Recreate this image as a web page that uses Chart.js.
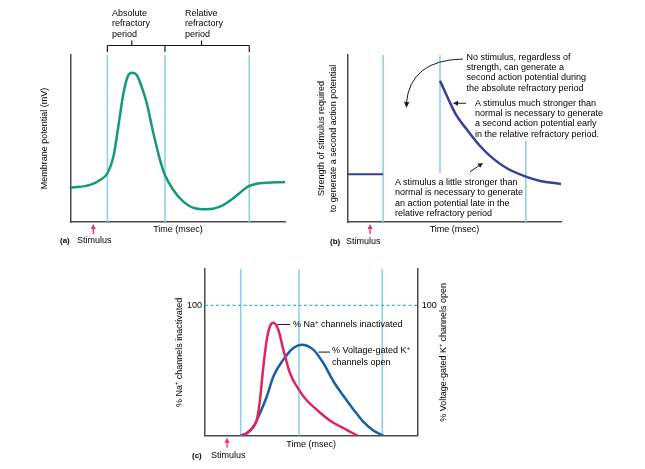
<!DOCTYPE html>
<html><head><meta charset="utf-8">
<script src="https://cdn.jsdelivr.net/npm/chart.js@4.4.1/dist/chart.umd.min.js"></script>
<style>
html,body{margin:0;padding:0;background:#fff;}
#wrap{position:relative;width:645px;height:469px;overflow:hidden;font-family:'Liberation Sans',Arial,sans-serif;color:#000;}
canvas{position:absolute;left:0;top:0;}
.t{position:absolute;font-size:9px;line-height:10.4px;white-space:nowrap;}
.lbl{font-weight:bold;font-size:8px;}
sup{font-size:6px;line-height:0;vertical-align:3px;}
</style></head><body>
<div id="wrap">
<canvas id="ca" width="645" height="469" style="width:645px;height:469px"></canvas>
<canvas id="cb" width="645" height="469" style="width:645px;height:469px"></canvas>
<canvas id="cc" width="645" height="469" style="width:645px;height:469px"></canvas>

<div class="t" style="left:112px;top:8px;">Absolute<br>refractory<br>period</div>
<div class="t" style="left:185px;top:8px;">Relative<br>refractory<br>period</div>
<div class="t lbl" style="left:60px;top:236px;">(a)</div>
<div class="t" style="left:77px;top:235px;">Stimulus</div>

<div class="t" style="left:466.5px;top:51.5px;">No stimulus, regardless of<br>strength, can generate a<br>second action potential during<br>the absolute refractory period</div>
<div class="t" style="left:475px;top:97.5px;">A stimulus much stronger than<br>normal is necessary to generate<br>a second action potential early<br>in the relative refractory period.</div>
<div class="t" style="left:395px;top:176.5px;line-height:10.5px;">A stimulus a little stronger than<br>normal is necessary to generate<br>an action potential late in the<br>relative refractory period</div>
<div class="t lbl" style="left:330px;top:237px;">(b)</div>
<div class="t" style="left:346px;top:236px;">Stimulus</div>

<div class="t" style="left:293px;top:319px;">% Na<sup>+</sup> channels inactivated</div>
<div class="t" style="left:332px;top:345px;line-height:11.5px;">% Voltage-gated K<sup>+</sup><br>channels open</div>
<div class="t lbl" style="left:192px;top:451px;">(c)</div>
<div class="t" style="left:211px;top:450px;">Stimulus</div>
</div>
<script>
// ---------- data ----------
// shared time events (arbitrary time units, 0..100 across each axis)
const stimulusTime = 10.4;

// (a) action potential
const aTime      = [0, 8.9, 13.6, 17, 19.8, 22.1, 24.5, 26.8, 28.6, 30.7, 33, 35.4, 38.5, 41.6, 43.9, 47.8, 52.5, 57.9, 63.4, 69.6, 75.8, 80.5, 83.3, 88.3, 100];
const aPotential = [20.5, 22.2, 25.1, 29.2, 39.1, 57.1, 77.1, 88.0, 89.4, 88.0, 81, 71.1, 53.1, 37.1, 28.1, 19.2, 12.2, 8.2, 7.6, 9.2, 14.2, 19.2, 21.6, 23.2, 24];
const aRefractoryTimes = [17, 43.9, 83.3];
const aBracketLabelTimes = [28.4, 61];

// (b) threshold strength
const bBaseTime     = [0, 16.5];
const bBaseStrength = [28.6, 28.6];
const bTime     = [43.2, 45.4, 47.6, 50.5, 55.7, 62, 68.3, 74.6, 83.5, 90.3, 100];
const bStrength = [84.6, 78.5, 72.3, 64.8, 55.5, 45.5, 37.8, 32.2, 27.2, 24.6, 22.8];
const bLineTimes = [16.5, 43.2, 83.5];
const bLineLow   = [0, 29.3, 0];
const bLineHigh  = [100, 100, 48.7];

// (c) channel states
const cNaTime = [16.8, 19.6, 22.8, 24.4, 25.9, 27.5, 29.1, 30.6, 32.2, 34.5, 36.9, 40, 44.7, 48, 52.6, 59, 66.7, 72];
const cNaPct  = [0, 1.8, 6.9, 12.1, 27.5, 53.2, 73.8, 84, 86.7, 81.5, 66.1, 48.1, 34, 27, 20, 11.5, 4.5, 0];
const cKTime  = [16.8, 19.6, 22.8, 25.9, 29.1, 32.2, 36.9, 41.6, 45.5, 51, 55.7, 60.4, 65, 70, 75, 79.3, 84];
const cKPct   = [0, 1.8, 6.9, 17.3, 30.1, 45.5, 58.4, 67.4, 69.9, 66.1, 55.8, 42, 31, 20, 10, 4, 0];
const cLineTimes = [16.8, 44.3, 83.5];
const cMaxPct = 128;
const cRefPct = 100;
const cTicks = [100];

// ---------- styling ----------
Chart.defaults.font.family = "'Liberation Sans', Arial, sans-serif";
Chart.defaults.font.size = 9;
Chart.defaults.color = '#000';
const AXIS = '#4a4a4a', CYAN = '#86d0e8', PINK = '#e8307c';

const pts = (xs, ys) => xs.map((x, i) => ({x, y: ys[i]}));
const vline = (t, lo, hi, col) => ({data: [{x: t, y: lo}, {x: t, y: hi}], borderColor: col || CYAN, borderWidth: 1.5, pointRadius: 0, tension: 0});
const curve = (data, col, extra) => Object.assign({data, borderColor: col, borderWidth: 2.5, pointRadius: 0, cubicInterpolationMode: 'monotone', fill: false}, extra || {});

function xScale(title, pad) {
  return {type: 'linear', min: 0, max: 100,
    grid: {display: false, drawTicks: false, tickLength: 0},
    border: {display: true, color: AXIS, width: 1.5},
    ticks: {display: false},
    title: {display: true, text: title, font: {size: 9}, padding: pad}};
}
function yScale(min, max, title, pad) {
  return {type: 'linear', min, max, position: 'left',
    grid: {display: false, drawTicks: false, tickLength: 0},
    border: {display: true, color: AXIS, width: 1.5},
    ticks: {display: false},
    title: {display: true, text: title, font: {size: 9, lineHeight: 1.28}, padding: pad}};
}
function arrowHead(ctx, x, y, ang, len, w) {
  ctx.beginPath();
  ctx.moveTo(x, y);
  ctx.lineTo(x - len * Math.cos(ang) + w * Math.sin(ang), y - len * Math.sin(ang) - w * Math.cos(ang));
  ctx.lineTo(x - len * Math.cos(ang) - w * Math.sin(ang), y - len * Math.sin(ang) + w * Math.cos(ang));
  ctx.closePath();
  ctx.fill();
}
function stimulusArrow(chart) {
  const ctx = chart.ctx, x = chart.scales.x.getPixelForValue(stimulusTime), b = chart.chartArea.bottom;
  ctx.save();
  ctx.strokeStyle = PINK; ctx.fillStyle = PINK; ctx.lineWidth = 1.3;
  ctx.beginPath(); ctx.moveTo(x, b + 12); ctx.lineTo(x, b + 5); ctx.stroke();
  arrowHead(ctx, x, b + 2, -Math.PI / 2, 5, 2.6);
  ctx.restore();
}
const common = {responsive: false, animation: false, events: [],
  plugins: {legend: {display: false}, tooltip: {enabled: false}}};

// ---------- (a) ----------
new Chart(document.getElementById('ca'), {
  type: 'line',
  data: {datasets: [
    curve(pts(aTime, aPotential), '#16997a'),
    ...aRefractoryTimes.map(t => vline(t, 0, 100))
  ]},
  options: Object.assign({}, common, {
    layout: {padding: {left: 30, top: 55, right: 360, bottom: 219}},
    scales: {
      x: xScale('Time (msec)', {top: 2.6, bottom: 14.6}),
      y: yScale(0, 100, 'Membrane potential (mV)', {top: 9.1, bottom: 20.4})
    }
  }),
  plugins: [{id: 'annA', afterDatasetsDraw(chart) {
    const ctx = chart.ctx, xs = chart.scales.x, top = chart.chartArea.top;
    const xb = aRefractoryTimes.map(t => xs.getPixelForValue(t));
    const yb = top - 9.5;
    ctx.save();
    ctx.strokeStyle = '#1a1a1a'; ctx.lineWidth = 1.2;
    ctx.beginPath();
    ctx.moveTo(xb[0], yb); ctx.lineTo(xb[xb.length - 1], yb);
    xb.forEach(x => { ctx.moveTo(x, yb); ctx.lineTo(x, top - 3); });
    aBracketLabelTimes.forEach(t => { const x = xs.getPixelForValue(t); ctx.moveTo(x, yb); ctx.lineTo(x, yb - 5); });
    ctx.stroke();
    ctx.restore();
    stimulusArrow(chart);
  }}]
});

// ---------- (b) ----------
new Chart(document.getElementById('cb'), {
  type: 'line',
  data: {datasets: [
    curve(pts(bTime, bStrength), '#3a3d9a'),
    curve(pts(bBaseTime, bBaseStrength), '#3a3d9a', {cubicInterpolationMode: 'default', tension: 0, borderWidth: 2}),
    ...bLineTimes.map((t, i) => vline(t, bLineLow[i], bLineHigh[i]))
  ]},
  options: Object.assign({}, common, {
    layout: {padding: {left: 300, top: 55, right: 84, bottom: 219}},
    scales: {
      x: xScale('Time (msec)', {top: 2.6, bottom: 14.6}),
      y: yScale(0, 100, ['Strength of stimulus required', 'to generate a second action potential'], {top: 15.9, bottom: 9.0})
    }
  }),
  plugins: [{id: 'annB', afterDatasetsDraw(chart) {
    const ctx = chart.ctx, X = v => chart.scales.x.getPixelForValue(v), Y = v => chart.scales.y.getPixelForValue(v);
    ctx.save();
    ctx.strokeStyle = '#1a1a1a'; ctx.fillStyle = '#1a1a1a'; ctx.lineWidth = 1;
    // curved arrow into absolute refractory period
    const sx = X(54), sy = Y(97.6), cx = X(29), cy = Y(97), ex = X(27.4), ey = Y(68.3);
    ctx.beginPath(); ctx.moveTo(sx, sy); ctx.quadraticCurveTo(cx, cy, ex, ey - 4); ctx.stroke();
    arrowHead(ctx, ex, ey, Math.atan2(ey - cy, ex - cx), 6, 2.6);
    // arrow to early relative refractory
    ctx.beginPath(); ctx.moveTo(X(55.4), Y(71.1)); ctx.lineTo(X(50.5), Y(71.1)); ctx.stroke();
    arrowHead(ctx, X(49.3), Y(71.1), Math.PI, 5, 2.4);
    // arrow to late relative refractory
    const a1x = X(57.3), a1y = Y(30.1), a2x = X(63.4), a2y = Y(35.3);
    const ang = Math.atan2(a2y - a1y, a2x - a1x);
    ctx.beginPath(); ctx.moveTo(a1x, a1y); ctx.lineTo(a2x - 4 * Math.cos(ang), a2y - 4 * Math.sin(ang)); ctx.stroke();
    arrowHead(ctx, a2x, a2y, ang, 5, 2.4);
    ctx.restore();
    stimulusArrow(chart);
  }}]
});

// ---------- (c) ----------
const yC = (pos, width, title, pad) => ({type: 'linear', min: 0, max: cMaxPct, position: pos,
  grid: {display: false, drawTicks: false, tickLength: 0},
  border: {display: true, color: AXIS, width: 1.5},
  afterBuildTicks: s => { s.ticks = cTicks.map(v => ({value: v})); },
  afterFit: s => { s.width = width; },
  ticks: {display: true, font: {size: 9}, padding: pos === 'left' ? 3 : 4.4, color: '#000'},
  title: {display: !!title, text: title || '', font: {size: 9}, padding: pad || 0}});

const rightTitle = '% Voltage-gated K⁺ channels open';

new Chart(document.getElementById('cc'), {
  type: 'line',
  data: {datasets: [
    curve(pts(cNaTime, cNaPct), '#e1245e'),
    curve(pts(cKTime, cKPct), '#175fa6', {yAxisID: 'y2'}),
    {data: [{x: 0, y: cRefPct}, {x: 100, y: cRefPct}], borderColor: '#3cb8dc', borderWidth: 1.2, borderDash: [3, 2.5], pointRadius: 0},
    ...cLineTimes.map(t => vline(t, 0, cMaxPct))
  ]},
  options: Object.assign({}, common, {
    layout: {padding: {left: 150, top: 269, right: 197.7, bottom: 9}},
    scales: {
      x: xScale('Time (msec)', {top: 3.9, bottom: 9.6}),
      y: yC('left', 55, '% Na⁺ channels inactivated', {top: 24.6, bottom: 0}),
      y2: yC('right', 30)
    }
  }),
  plugins: [{id: 'annC', afterDatasetsDraw(chart) {
    const ctx = chart.ctx, X = v => chart.scales.x.getPixelForValue(v), Y = v => chart.scales.y.getPixelForValue(v);
    const ca = chart.chartArea;
    ctx.save();
    ctx.strokeStyle = '#1a1a1a'; ctx.lineWidth = 1;
    ctx.beginPath();
    ctx.moveTo(X(34.1), Y(85.4)); ctx.lineTo(X(40.1), Y(85.4));
    ctx.moveTo(X(53.4), Y(64.2)); ctx.lineTo(X(58.9), Y(64.2));
    ctx.stroke();
    // right-hand axis title, reading bottom-to-top like the left one
    ctx.translate(ca.right + 26, (ca.top + ca.bottom) / 2);
    ctx.rotate(-Math.PI / 2);
    ctx.fillStyle = '#000';
    ctx.font = "9px 'Liberation Sans', Arial, sans-serif";
    ctx.textAlign = 'center'; ctx.textBaseline = 'middle';
    ctx.fillText(rightTitle, 0, 0);
    ctx.restore();
    stimulusArrow(chart);
  }}]
});
</script>
</body></html>
